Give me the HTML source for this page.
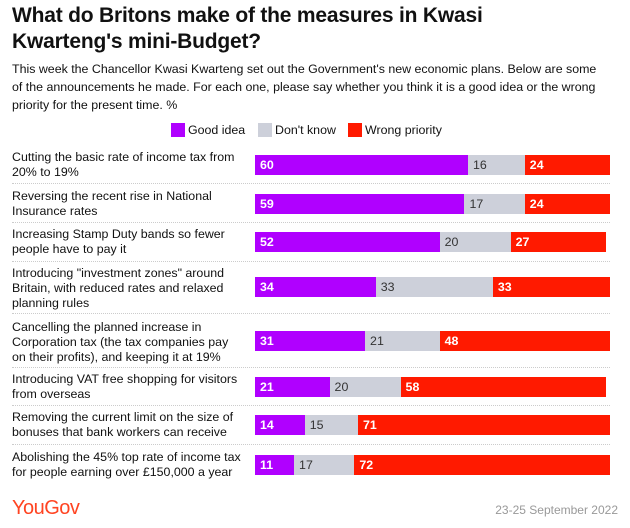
<!DOCTYPE html>
<html><head><meta charset="utf-8"><style>
body{margin:0;width:630px;height:528px;background:#fff;font-family:"Liberation Sans",Arial,sans-serif;color:#111;position:relative;overflow:hidden}
.t{position:absolute;left:12px;top:3px;font-size:21px;font-weight:bold;line-height:26px;letter-spacing:-0.2px}
.s{position:absolute;left:12px;top:60px;width:618px;white-space:nowrap;font-size:12.4px;line-height:18px}
.lab{position:absolute;left:12px;width:232px;font-size:12.4px;line-height:15px}
.sep{position:absolute;left:12px;width:598px;border-top:1px dotted #ccc}
.bar{position:absolute;height:20px;font-size:12.4px;line-height:20px;box-sizing:border-box;padding-left:5px}
.leg{position:absolute;top:122px;font-size:12.4px;line-height:16px}
.sw{display:inline-block;width:14px;height:14px;vertical-align:-3px;margin-right:3px}
</style></head><body>
<div class="t">What do Britons make of the measures in Kwasi<br>Kwarteng's mini-Budget?</div>
<div class="s">This week the Chancellor Kwasi Kwarteng set out the Government's new economic plans. Below are some<br>of the announcements he made. For each one, please say whether you think it is a good idea or the wrong<br>priority for the present time. %</div>
<div class="leg" style="left:171px"><span class="sw" style="background:#b000ff"></span>Good idea</div>
<div class="leg" style="left:258px"><span class="sw" style="background:#cdd0da"></span>Don't know</div>
<div class="leg" style="left:348px"><span class="sw" style="background:#ff1a00"></span>Wrong priority</div>
<div id="chart"></div>
<div style="position:absolute;left:12px;top:497px;font-size:20px;color:#ff4422;letter-spacing:-0.5px">YouGov</div>
<div style="position:absolute;right:12px;top:503px;font-size:12px;color:#999">23-25 September 2022</div>
<script>
const categories=["Cutting the basic rate of income tax from 20% to 19%","Reversing the recent rise in National Insurance rates","Increasing Stamp Duty bands so fewer people have to pay it","Introducing \"investment zones\" around Britain, with reduced rates and relaxed planning rules","Cancelling the planned increase in Corporation tax (the tax companies pay on their profits), and keeping it at 19%","Introducing VAT free shopping for visitors from overseas","Removing the current limit on the size of bonuses that bank workers can receive","Abolishing the 45% top rate of income tax for people earning over £150,000 a year"];
const goodIdea=[60,59,52,34,31,21,14,11];
const dontKnow=[16,17,20,33,21,20,15,17];
const wrongPriority=[24,24,27,33,48,58,71,72];
const rowTops=[155,194,232,277,331,377,415,455];
const labTops=[150,189,227,266,320,372,410,450];
const sepY=[183,222,261,313,367,405,444];
const x0=255,scale=3.55;
const X=v=>x0+v*scale;
const c=document.getElementById('chart');
categories.forEach((cat,i)=>{
 const l=document.createElement('div');l.className='lab';l.style.top=labTops[i]+'px';l.textContent=cat;
 
 
 c.appendChild(l);
 let acc=0;
 [[goodIdea,'#b000ff','#fff','bold'],[dontKnow,'#cdd0da','#333','normal'],[wrongPriority,'#ff1a00','#fff','bold']].forEach((s,k)=>{
  const v=s[0][i];const b=document.createElement('div');b.className='bar';
  b.style.left=X(acc)+'px';b.style.width=(v*scale)+'px';b.style.top=rowTops[i]+'px';
  b.style.background=s[1];b.style.color=s[2];b.style.fontWeight=s[3];b.textContent=v;
  
  
  c.appendChild(b);acc+=v;
 });
});
sepY.forEach(y=>{const d=document.createElement('div');d.className='sep';d.style.top=y+'px';
 
 
 c.appendChild(d);});
</script>
</body></html>
